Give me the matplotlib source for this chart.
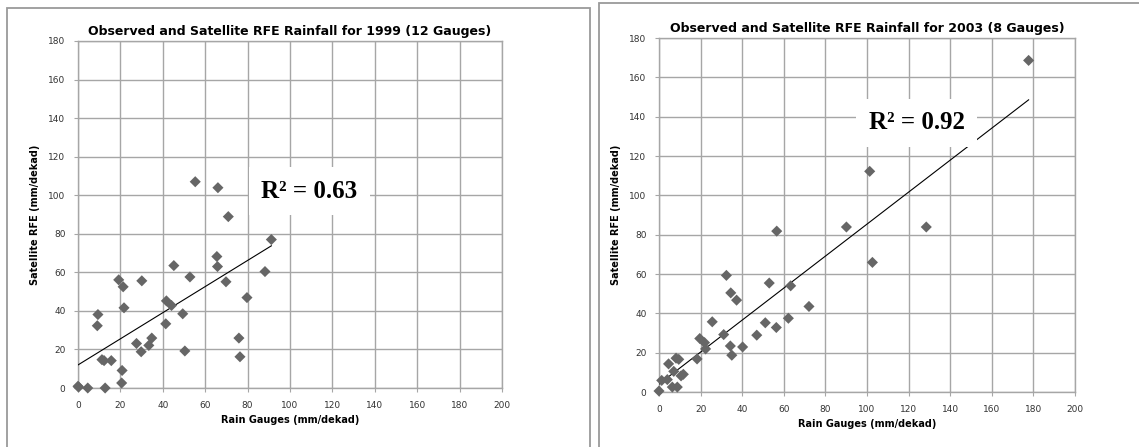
import numpy as np
import matplotlib
matplotlib.use("Agg")
import matplotlib.pyplot as plt
from matplotlib.patches import Rectangle

# 1999 - 12 gauges (mm/dekad)
gauge_1999 = [0, 0.3, 4.6, 12.8, 9.4, 9.1, 11.3, 12.3, 15.7, 19.2, 21.3, 21.7,
              20.8, 20.6, 27.6, 29.8, 30.1, 33.4, 34.8, 41.4, 41.7, 44.1, 45.2,
              49.4, 50.4, 52.8, 55.3, 65.5, 65.8, 66.0, 69.8, 70.9, 75.9, 76.4,
              79.7, 88.2, 91.2]
rfe_1999 = [0.9, 0.5, 0, 0, 38.1, 32.3, 14.7, 14.2, 14.2, 56.1, 52.5, 41.6,
            9.1, 2.6, 23.1, 18.8, 55.6, 22.1, 25.9, 33.3, 45.2, 42.8, 63.5,
            38.5, 19.2, 57.6, 107.0, 68.2, 63.0, 103.9, 55.1, 88.9, 25.9, 16.2,
            46.9, 60.4, 77.0]

# 2003 - 8 gauges (mm/dekad)
gauge_2003 = [0, 1.3, 4.0, 4.6, 6.4, 7.1, 8.2, 8.8, 9.5, 10.6, 11.7, 18.3,
              19.6, 21.9, 22.4, 25.6, 31.1, 32.4, 34.3, 34.5, 35.0, 37.3, 40.2,
              47.0, 51.1, 53.0, 56.4, 56.6, 62.2, 63.3, 72.1, 90.1, 101.3,
              102.6, 128.5, 177.7]
rfe_2003 = [0.5, 5.9, 6.3, 14.3, 2.5, 10.5, 17.2, 2.5, 16.6, 8.2, 9.0, 16.8,
            27.2, 25.1, 21.9, 35.7, 29.2, 59.3, 23.4, 50.4, 18.7, 46.7, 22.9,
            28.9, 35.2, 55.4, 32.8, 81.8, 37.5, 54.0, 43.5, 83.9, 112.2,
            65.9, 83.9, 168.6]

titles = ["Observed and Satellite RFE Rainfall for 1999 (12 Gauges)",
          "Observed and Satellite RFE Rainfall for 2003 (8 Gauges)"]
r2_labels = ["R\u00b2 = 0.63", "R\u00b2 = 0.92"]
r2_pos = [(109, 102), (124, 137)]

GRID = "#a6a6a6"
MARK = "#666666"

fig = plt.figure(figsize=(11.39, 4.47), dpi=100)

# panel frames
fig.add_artist(Rectangle((7 / 1139, -0.1), (590 - 7) / 1139, (447 - 8) / 447 + 0.1,
                         transform=fig.transFigure, fill=False, ec="#9a9a9a", lw=1.3))
fig.add_artist(Rectangle((599 / 1139, -0.1), 0.6, (447 - 3) / 447 + 0.1,
                         transform=fig.transFigure, fill=False, ec="#9a9a9a", lw=1.3))

axes_rects = [[78 / 1139, 59 / 447, 424 / 1139, 347 / 447],
              [659 / 1139, 55 / 447, 416 / 1139, 354 / 447]]
datasets = [(gauge_1999, rfe_1999), (gauge_2003, rfe_2003)]

for rect, (x, y), title, r2, pos in zip(axes_rects, datasets, titles, r2_labels, r2_pos):
    ax = fig.add_axes(rect)
    x = np.array(x)
    y = np.array(y)
    ax.set_xlim(0, 200)
    ax.set_ylim(0, 180)
    ax.set_xticks(np.arange(0, 201, 20))
    ax.set_yticks(np.arange(0, 181, 20))
    ax.grid(True, color=GRID, lw=1)
    ax.set_axisbelow(True)
    for s in ax.spines.values():
        s.set_color(GRID)
        s.set_linewidth(1)
    ax.tick_params(length=3, color=GRID, labelsize=6.5, labelcolor="#333333", pad=6)

    # linear trend line
    slope, intercept = np.polyfit(x, y, 1)
    xs = np.array([x.min(), x.max()])
    ax.plot(xs, intercept + slope * xs, color="black", lw=0.8, zorder=3)

    ax.scatter(x, y, marker="D", s=32, color=MARK, edgecolors="none", zorder=4,
               clip_on=False)

    ax.text(pos[0], pos[1], r2, ha="center", va="center", fontsize=18,
            family="Liberation Serif", weight="bold", zorder=5,
            bbox=dict(facecolor="white", edgecolor="none", pad=9))

    ax.set_title(title, fontsize=9, weight="bold", family="DejaVu Sans", pad=4)
    ax.set_xlabel("Rain Gauges (mm/dekad)", fontsize=7, weight="bold",
                  family="DejaVu Sans", labelpad=4)
    ax.set_ylabel("Satellite RFE (mm/dekad)", fontsize=7, weight="bold",
                  family="DejaVu Sans", labelpad=6)

fig.savefig("out.png", dpi=100)
